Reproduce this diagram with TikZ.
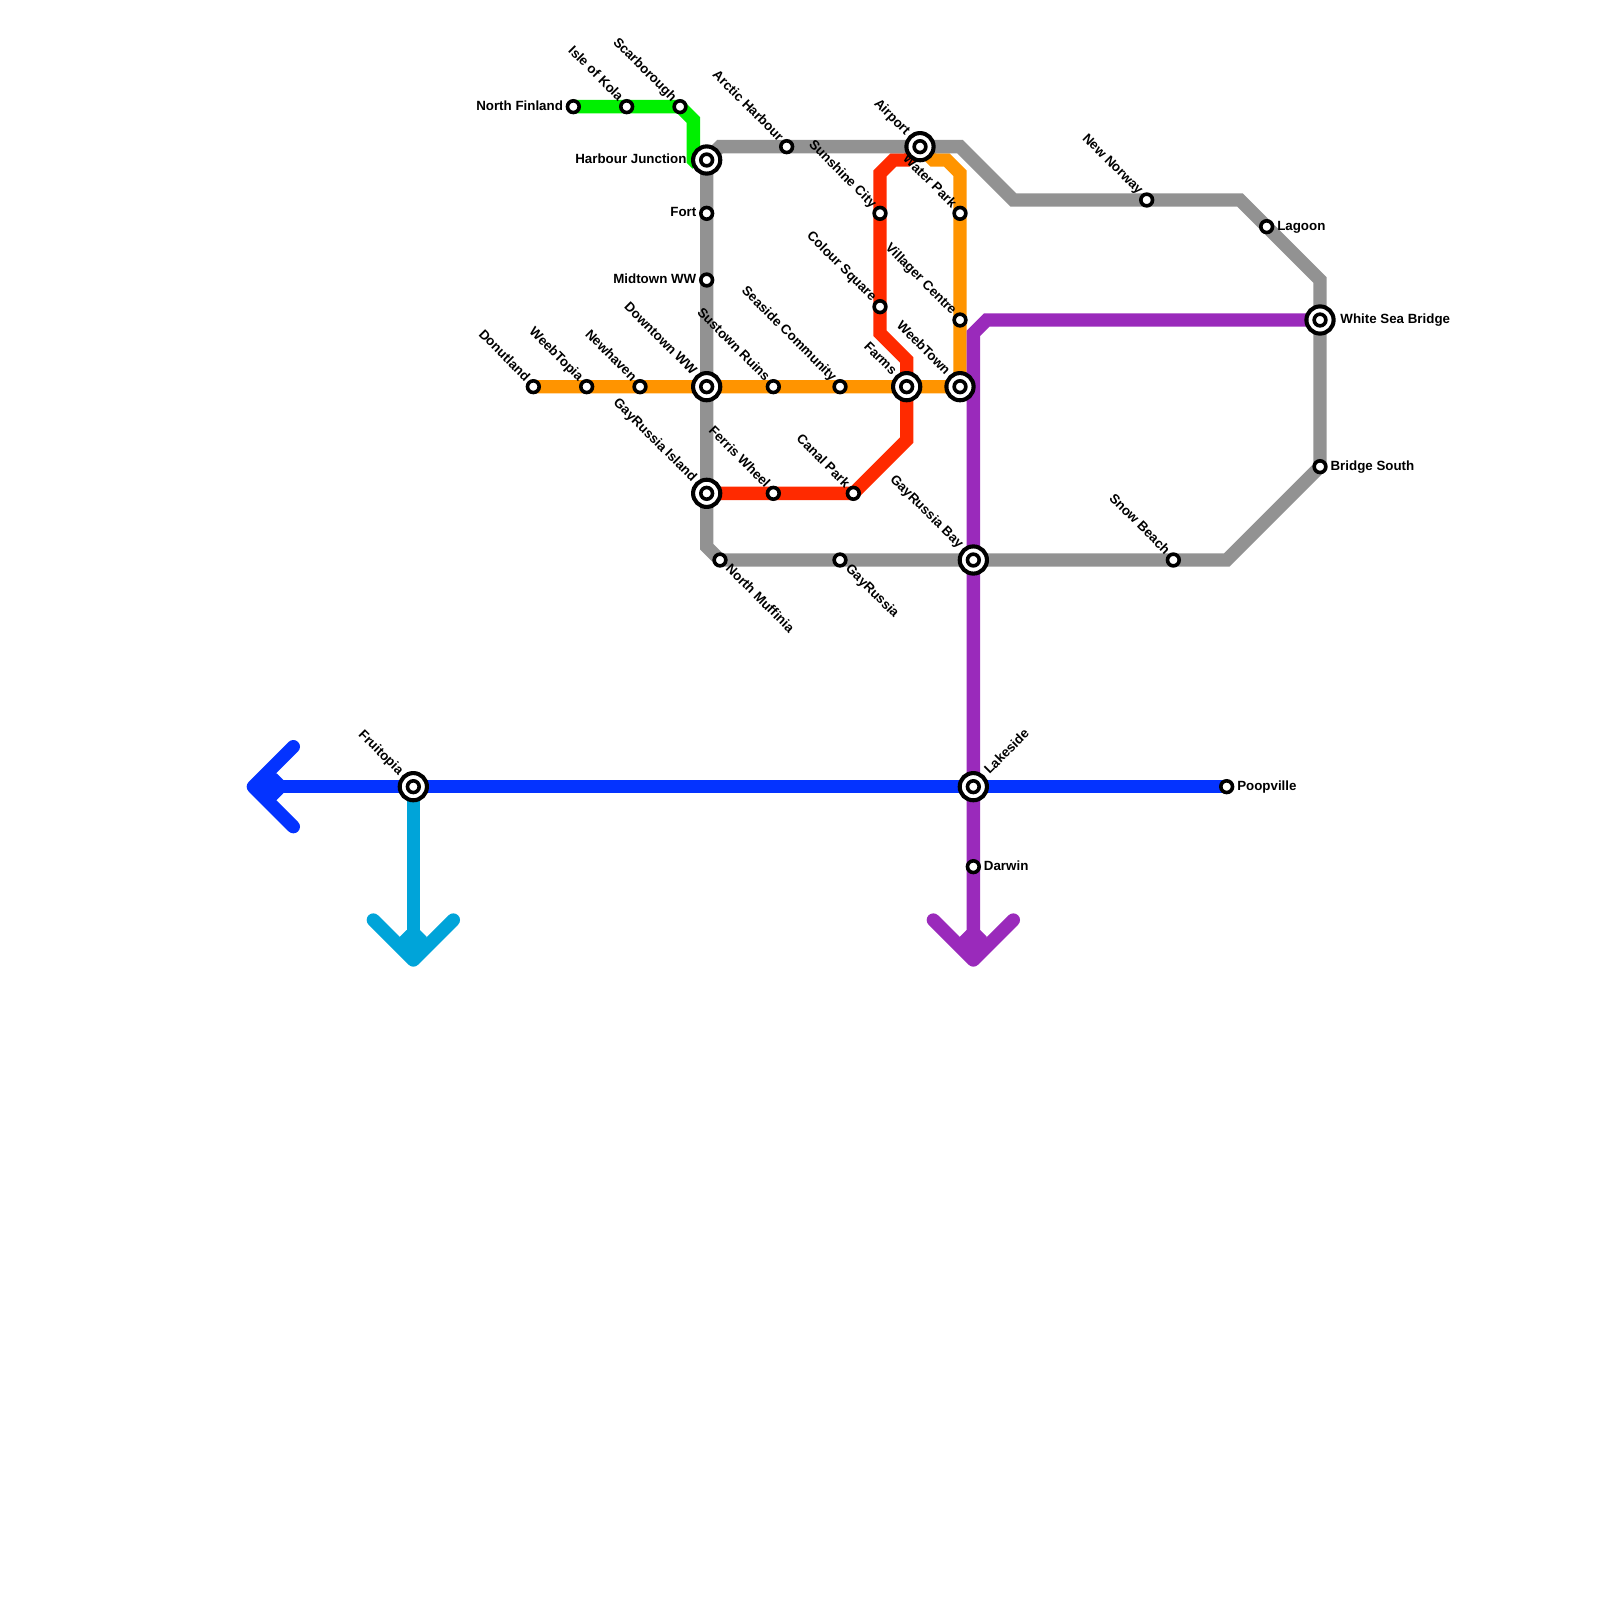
\documentclass[tikz,border=0pt]{standalone}
\usepackage{fontspec}
\setmainfont{Liberation Sans}
\pgfdeclarelayer{lines}
\pgfdeclarelayer{labs}
\pgfsetlayers{lines,labs,main}
\definecolor{cgray}{HTML}{929292}
\definecolor{corange}{HTML}{FF9400}
\definecolor{cred}{HTML}{FF2A00}
\definecolor{cgreen}{HTML}{00F000}
\definecolor{cpurple}{HTML}{9A2ABB}
\definecolor{cblue}{HTML}{0433FF}
\definecolor{ccyan}{HTML}{00A4D9}
\tikzset{
  x=6.66667pt,y=-6.66667pt,
  stn/.style={circle,draw=black,fill=white,line width=1.8pt,minimum size=5.85pt,inner sep=0pt},
  hubring/.style={circle,draw=black,fill=white,line width=2.05pt,minimum size=13.6pt,inner sep=0pt},
  rail/.style={line width=6.66667pt,miter limit=10},
  head/.style={line width=6.66667pt,line cap=round,line join=round},
  lab/.style={inner sep=0pt,font=\bfseries\fontsize{6.667}{8}\selectfont},
  ul/.style={lab,xshift=-4.2pt,yshift=2.3pt,rotate=-45,anchor=base east},
  ulh/.style={lab,xshift=-7.4pt,yshift=5.4pt,rotate=-45,anchor=base east},
  dr/.style={lab,xshift=2.4pt,yshift=-4.6pt,rotate=-45,anchor=base west},
  urh/.style={lab,xshift=8pt,yshift=5.7pt,rotate=45,anchor=base west},
  lt/.style={lab,xshift=-5pt,yshift=-1.7pt,anchor=base east},
  lth/.style={lab,xshift=-9.9pt,yshift=-1.7pt,anchor=base east},
  rt/.style={lab,xshift=5.1pt,yshift=-1.7pt,anchor=base west},
  rth/.style={lab,xshift=10pt,yshift=-1.7pt,anchor=base west},
}
\newcommand{\Hub}[2]{\node[hubring] (#1) at (#2) {};\node[stn] (#1c) at (#1) {};}
\begin{document}
\begin{tikzpicture}
\useasboundingbox (0,0) rectangle (120,120);
% stations
\node[stn] (nfin) at (43,8) {};
\node[stn] (kola) at (47,8) {};
\node[stn] (scar) at (51,8) {};
\Hub{harb}{53,12}
\node[stn] (fort) at (53,16) {};
\node[stn] (midt) at (53,21) {};
\Hub{down}{53,29}
\node[stn] (donu) at (40,29) {};
\node[stn] (weeb) at (44,29) {};
\node[stn] (newh) at (48,29) {};
\node[stn] (sust) at (58,29) {};
\node[stn] (seas) at (63,29) {};
\Hub{farm}{68,29}
\Hub{wtwn}{72,29}
\node[stn] (arct) at (59,11) {};
\Hub{airp}{69,11}
\node[stn] (suns) at (66,16) {};
\node[stn] (watr) at (72,16) {};
\node[stn] (colr) at (66,23) {};
\node[stn] (vill) at (72,24) {};
\Hub{gisl}{53,37}
\node[stn] (ferr) at (58,37) {};
\node[stn] (cana) at (64,37) {};
\node[stn] (nmuf) at (54,42) {};
\node[stn] (gayr) at (63,42) {};
\Hub{gbay}{73,42}
\node[stn] (snow) at (88,42) {};
\node[stn] (brsh) at (99,35) {};
\Hub{whts}{99,24}
\node[stn] (lagn) at (95,17) {};
\node[stn] (nnor) at (86,15) {};
\Hub{lake}{73,59}
\Hub{frui}{31,59}
\node[stn] (poop) at (92,59) {};
\node[stn] (darw) at (73,65) {};
% bends
\coordinate (g1) at (54,11);
\coordinate (g2) at (72,11);
\coordinate (g3) at (76,15);
\coordinate (g4) at (93,15);
\coordinate (g5) at (99,21);
\coordinate (g6) at (92,42);
\coordinate (g7) at (53,41);
\coordinate (v1) at (52,9);
\coordinate (v2) at (52,12);
\coordinate (v3) at (52.3,12.3);
\coordinate (o1) at (70,12);
\coordinate (o2) at (71,12);
\coordinate (o3) at (72,13);
\coordinate (r1) at (68,33);
\coordinate (r2) at (68,27);
\coordinate (r3) at (66,25);
\coordinate (r4) at (66,13);
\coordinate (r5) at (67,12);
\coordinate (r6) at (68,12);
\coordinate (p1) at (74,24);
\coordinate (p2) at (73,25);
\coordinate (pt) at (73,72);
\coordinate (pa) at (70,69);
\coordinate (pb) at (76,69);
\coordinate (ct) at (31,72);
\coordinate (ca) at (28,69);
\coordinate (cb) at (34,69);
\coordinate (bt) at (19,59);
\coordinate (ba) at (22,56);
\coordinate (bb) at (22,62);
\begin{pgfonlayer}{lines}
\draw[rail,cgreen] (nfin.center) -- (scar.center) -- (v1) -- (v2) -- (v3);
\draw[rail,corange] (donu.center) -- (wtwn.center) -- (o3) -- (o2) -- (o1) -- (airp.center);
\draw[rail,cred] (gisl.center) -- (cana.center) -- (r1) -- (r2) -- (r3) -- (r4) -- (r5) -- (r6) -- (airp.center);
\draw[rail,cgray] (harb.center) -- (g1) -- (g2) -- (g3) -- (g4) -- (g5) -- (brsh.center) -- (g6) -- (nmuf.center) -- (g7) -- cycle;
\draw[rail,cpurple] (whts.center) -- (p1) -- (p2) -- (pt);
\draw[head,cpurple] (pa) -- (pt) -- (pb);
\fill[cpurple] (72,70.25) -- (72.5,69.75) -- (73.5,69.75) -- (74,70.25) -- (74,71.5) -- (72,71.5) -- cycle;
\draw[rail,ccyan] (frui.center) -- (ct);
\draw[head,ccyan] (ca) -- (ct) -- (cb);
\fill[ccyan] (30,70.25) -- (30.5,69.75) -- (31.5,69.75) -- (32,70.25) -- (32,71.5) -- (30,71.5) -- cycle;
\draw[rail,cblue] (poop.center) -- (bt);
\draw[head,cblue] (ba) -- (bt) -- (bb);
\fill[cblue] (20.75,58) -- (21.25,58.5) -- (21.25,59.5) -- (20.75,60) -- (19.5,60) -- (19.5,58) -- cycle;
\end{pgfonlayer}
\begin{pgfonlayer}{labs}
\node[lt] (lnfin) at (nfin) {North Finland};
\node[ul] (lkola) at (kola) {Isle of Kola};
\node[ul] (lscar) at (scar) {Scarborough};
\node[lth] (lharb) at (harb) {Harbour Junction};
\node[lt] (lfort) at (fort) {Fort};
\node[lt] (lmidt) at (midt) {Midtown WW};
\node[ulh] (ldown) at (down) {Downtown WW};
\node[ul] (ldonu) at (donu) {Donutland};
\node[ul] (lweeb) at (weeb) {WeebTopia};
\node[ul] (lnewh) at (newh) {Newhaven};
\node[ul] (lsust) at (sust) {Sustown Ruins};
\node[ul] (lseas) at (seas) {Seaside Community};
\node[ulh] (lfarm) at (farm) {Farms};
\node[ulh] (lwtwn) at (wtwn) {WeebTown};
\node[ul] (larct) at (arct) {Arctic Harbour};
\node[ulh] (lairp) at (airp) {Airport};
\node[ul] (lsuns) at (suns) {Sunshine City};
\node[ul] (lwatr) at (watr) {Water Park};
\node[ul] (lcolr) at (colr) {Colour Square};
\node[ul] (lvill) at (vill) {Villager Centre};
\node[ulh] (lgisl) at (gisl) {GayRussia Island};
\node[ul] (lferr) at (ferr) {Ferris Wheel};
\node[ul] (lcana) at (cana) {Canal Park};
\node[dr] (lnmuf) at (nmuf) {North Muffinia};
\node[dr] (lgayr) at (gayr) {GayRussia};
\node[ulh] (lgbay) at (gbay) {GayRussia Bay};
\node[ul] (lsnow) at (snow) {Snow Beach};
\node[rt] (lbrsh) at (brsh) {Bridge South};
\node[rth] (lwhts) at (whts) {White Sea Bridge};
\node[rt] (llagn) at (lagn) {Lagoon};
\node[ul] (lnnor) at (nnor) {New Norway};
\node[urh] (llake) at (lake) {Lakeside};
\node[ulh] (lfrui) at (frui) {Fruitopia};
\node[rt] (lpoop) at (poop) {Poopville};
\node[rt] (ldarw) at (darw) {Darwin};
\end{pgfonlayer}
\end{tikzpicture}
\end{document}
